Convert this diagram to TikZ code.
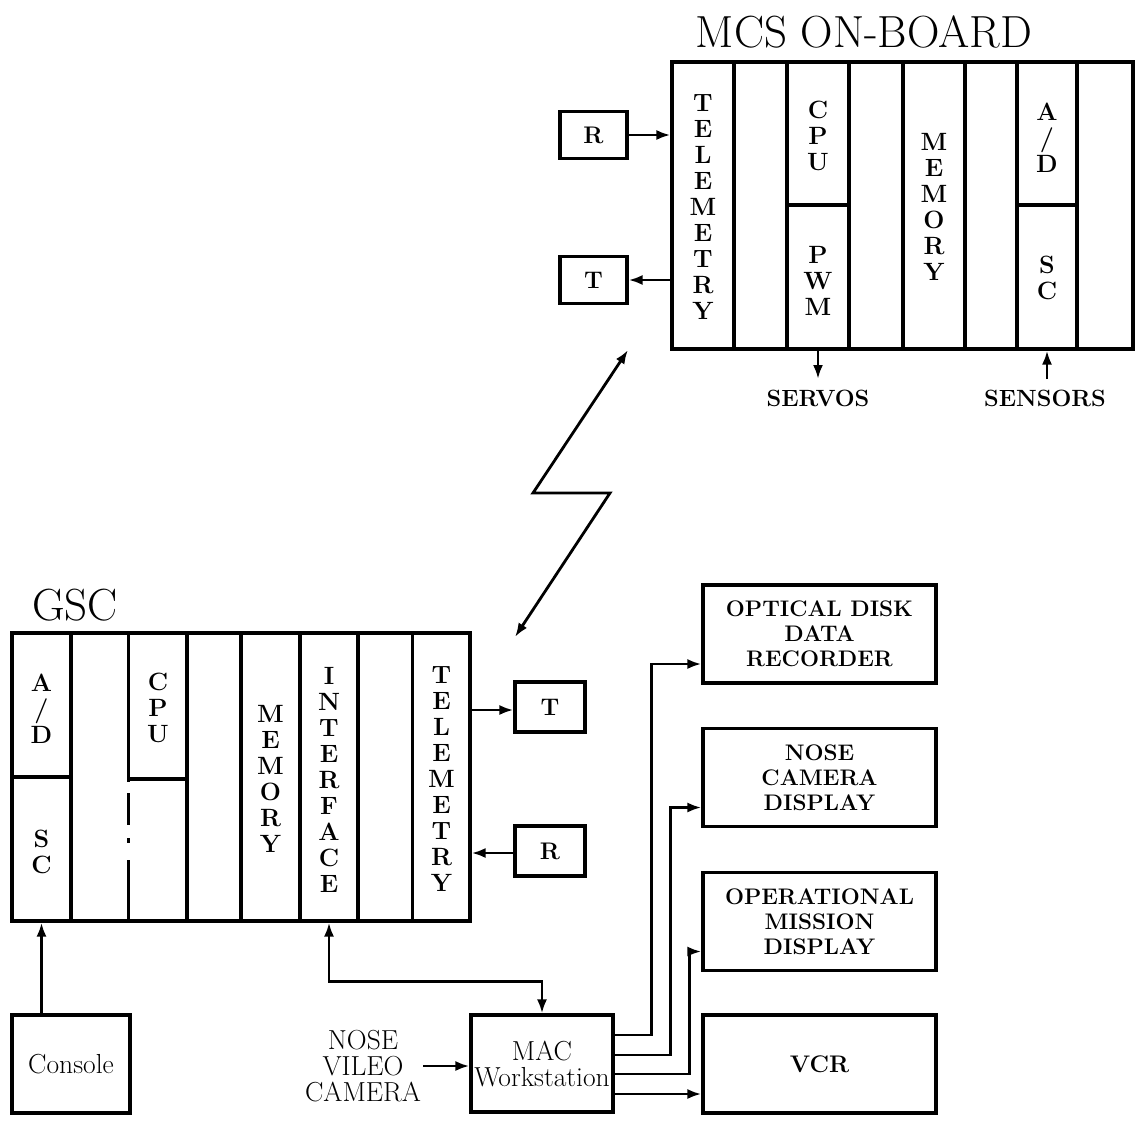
\documentclass[tikz,border=0pt]{standalone}
\usetikzlibrary{arrows.meta,calc}
\begin{document}
\begin{tikzpicture}[x=1pt,y=-1pt,
  box/.style={draw, line width=3.1pt, inner sep=0pt},
  divl/.style={line width=3.1pt},
  thickdiv/.style={line width=4.5pt},
  lbl/.style={inner sep=0pt, align=center, font=\fontsize{25}{26}\selectfont\bfseries},
  title/.style={inner sep=0pt, font=\fontsize{45}{50}\selectfont},
  small/.style={box, font=\fontsize{24}{26}\selectfont\bfseries},
  plain/.style={align=center, font=\fontsize{27.5}{26}\selectfont},
  rbox/.style={box, minimum width=233, minimum height=98, align=center, font=\fontsize{22.5}{25}\selectfont\bfseries},
  bold/.style={inner sep=2pt, font=\fontsize{23.5}{26}\selectfont\bfseries},
  arr/.style={line width=2.8pt, -{Latex[length=14pt,width=10pt]}},
  darr/.style={line width=2.8pt, {Latex[length=14pt,width=10pt]}-{Latex[length=14pt,width=10pt]}}]
\useasboundingbox (0,0) rectangle (1140,1121);

% ---------------- MCS ON-BOARD ----------------
\node[title] (mtitle) at (864,32) {MCS ON-BOARD};
\node[box, minimum width=461, minimum height=287] (mcs) at (902.5,205.5) {};
\foreach \xx in {734,787,849,903,965,1017,1077}
  \draw[divl] (\xx,62) -- (\xx,349);
\draw[thickdiv] (787,205) -- (849,205);
\draw[thickdiv] (1017,205) -- (1077,205);
\node[lbl] (mtel) at (703,207.5) {T\\E\\L\\E\\M\\E\\T\\R\\Y};
\node[lbl] (mcpu) at (818,136) {C\\P\\U};
\node[lbl] (mpwm) at (818,281) {P\\W\\M};
\node[lbl] (mmem) at (934,207) {M\\E\\M\\O\\R\\Y};
\node[lbl] (mad) at (1047,138) {A\\/\\D};
\node[lbl] (msc) at (1047,278) {S\\C};

\node[small, minimum width=67, minimum height=47] (mR) at (593.5,135) {R};
\node[small, minimum width=67, minimum height=47] (mT) at (593.5,280) {T};
\draw[arr] (mR.east) -- (mR.east -| mcs.west);
\draw[arr] (mT.east -| mcs.west) -- (mT.east);

\node[bold] (servos) at (818,398) {SERVOS};
\node[bold] (sensors) at (1045,398) {SENSORS};
\coordinate (svend) at (818,379);
\coordinate (snend) at (1047,379);
\draw[arr] (svend |- mcs.south) -- (svend);
\draw[arr] (snend) -- (snend |- mcs.south);

% ---------------- radio link ----------------
\coordinate (lA) at (628,350);
\coordinate (lB) at (533,493);
\coordinate (lC) at (610,493);
\coordinate (lD) at (515,637);
\draw[darr, line join=miter] (lA) -- (lB) -- (lC) -- (lD);

% ---------------- GSC ----------------
\node[title] (gtitle) at (75,605) {GSC};
\node[box, minimum width=458, minimum height=288] (gsc) at (241,777) {};
\foreach \xx in {71,187,241,300,358,412.6}
  \draw[divl] (\xx,633) -- (\xx,921);
\draw[divl] (128.6,633) -- (128.6,782);
\draw[divl] (128.6,793) -- (128.6,825);
\draw[divl] (128.6,838) -- (128.6,843);
\draw[divl] (128.6,860) -- (128.6,921);
\draw[thickdiv] (12,777) -- (71,777);
\draw[thickdiv] (128.6,779) -- (187,779);
\node[lbl] (gad) at (41.5,709) {A\\/\\D};
\node[lbl] (gsc2) at (41.5,852) {S\\C};
\node[lbl] (gcpu) at (158,708) {C\\P\\U};
\node[lbl] (gmem) at (270.5,779) {M\\E\\M\\O\\R\\Y};
\node[lbl] (gint) at (329,779.5) {I\\N\\T\\E\\R\\F\\A\\C\\E};
\node[lbl] (gtel) at (441.5,779.5) {T\\E\\L\\E\\M\\E\\T\\R\\Y};

\node[small, minimum width=70, minimum height=50] (gT) at (550,707) {T};
\node[small, minimum width=70, minimum height=50] (gR) at (550,851) {R};
\draw[arr] ([yshift=-3pt]gT.west -| gsc.east) -- ([yshift=-3pt]gT.west);
\draw[arr] ([yshift=-2pt]gR.west) -- ([yshift=-2pt]gR.west -| gsc.east);

% ---------------- ground equipment ----------------
\node[box, minimum width=118, minimum height=98, plain] (console) at (71,1064) {Console};
\node[box, minimum width=142, minimum height=97, plain] (mac) at (542,1063.5) {MAC\\Workstation};
\node[plain, inner sep=2pt] (nose) at (363,1066) {NOSE\\VILEO\\CAMERA};

\draw[arr] (gad |- console.north) -- (gad |- gsc.south);
\draw[darr] (gint |- gsc.south) -- ++(0,59) -| (mac.north);
\draw[arr] (nose.east) -- (nose.east -| mac.west);

\node[rbox] (opt) at (819.5,634) {OPTICAL DISK\\DATA\\RECORDER};
\node[rbox] (ncd) at (819.5,777.5) {NOSE\\CAMERA\\DISPLAY};
\node[rbox] (omd) at (819.5,921.5) {OPERATIONAL\\MISSION\\DISPLAY};
\node[rbox, font=\fontsize{24}{25}\selectfont\bfseries] (vcr) at (819.5,1064) {VCR};

\draw[arr] ([yshift=28.5pt]mac.east) -- ++(37,0) |- ([yshift=-30pt]opt.west);
\draw[arr] ([yshift=8.5pt]mac.east) -- ++(56,0) |- ([yshift=-30pt]ncd.west);
\draw[arr] ([yshift=-10.5pt]mac.east) -- ++(75,0) |- ([yshift=-30pt]omd.west);
\draw[arr] ([yshift=-30.5pt]mac.east) -- ([yshift=-30.5pt]mac.east -| vcr.west);
\end{tikzpicture}
\end{document}
